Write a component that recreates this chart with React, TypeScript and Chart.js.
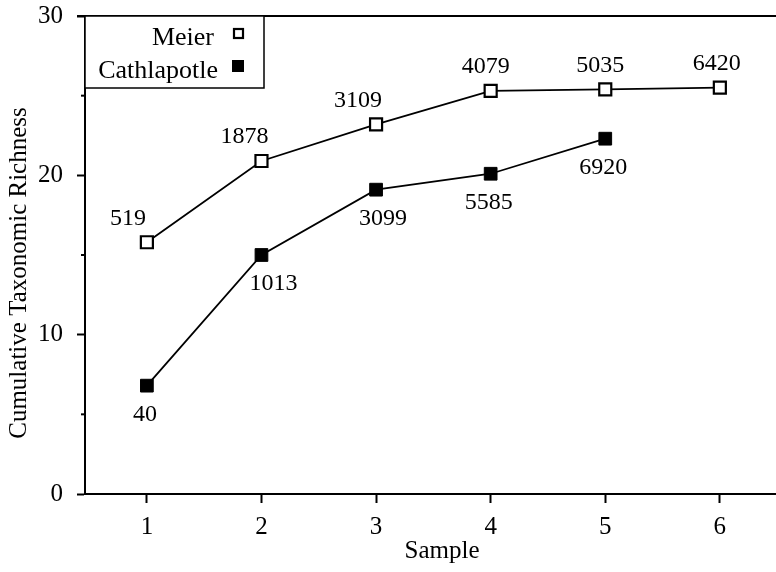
import { useEffect, useRef } from "react";
import { Chart, registerables } from "chart.js";

Chart.register(...registerables);

// ---- data ----
const samples = [1, 2, 3, 4, 5, 6];
const meier = [15.8, 20.9, 23.2, 25.3, 25.4, 25.5];
const cathlapotle = [6.8, 15.0, 19.1, 20.1, 22.3];
const meierLabels = ["519", "1878", "3109", "4079", "5035", "6420"];
const cathLabels = ["40", "1013", "3099", "5585", "6920"];
const xTickValues = [1, 2, 3, 4, 5, 6];
const yMajorTicks = [0, 10, 20, 30];
const yMinorTicks = [5, 15, 25];
const seriesNames = ["Meier", "Cathlapotle"];
const xTitle = "Sample";
const yTitle = "Cumulative Taxonomic Richness";

// ---- style ----
const FONT = "'Liberation Serif', 'Times New Roman', Times, serif";
const meierLabelDx = [-19, -17, -18, -5, -5, -3];
const cathLabelDx = [-2, 12, 7, -2, -2, 0];

const overlayPlugin = {
  id: "overlay",
  afterDraw(chart: any) {
    const { ctx, chartArea } = chart;
    const ys = chart.scales.y;
    ctx.save();
    // top frame line
    ctx.strokeStyle = "#000";
    ctx.lineWidth = 2;
    ctx.beginPath();
    ctx.moveTo(chartArea.left - 8, chartArea.top);
    ctx.lineTo(chartArea.right, chartArea.top);
    ctx.stroke();
    // minor y ticks
    yMinorTicks.forEach((v) => {
      const py = ys.getPixelForValue(v);
      ctx.beginPath();
      ctx.moveTo(chartArea.left - 4, py);
      ctx.lineTo(chartArea.left, py);
      ctx.stroke();
    });

    // data labels
    ctx.fillStyle = "#000";
    ctx.font = `24px ${FONT}`;
    ctx.textAlign = "center";
    ctx.textBaseline = "middle";
    const m0 = chart.getDatasetMeta(0);
    m0.data.forEach((pt: any, i: number) => {
      ctx.fillText(meierLabels[i], pt.x + meierLabelDx[i], pt.y - 24);
    });
    const m1 = chart.getDatasetMeta(1);
    m1.data.forEach((pt: any, i: number) => {
      ctx.fillText(cathLabels[i], pt.x + cathLabelDx[i], pt.y + 29);
    });

    // legend box
    const lx = chartArea.left;
    const ly = chartArea.top;
    const lw = 179;
    const lh = 72;
    ctx.fillStyle = "#fff";
    ctx.fillRect(lx, ly, lw, lh);
    ctx.strokeStyle = "#000";
    ctx.lineWidth = 1.5;
    ctx.strokeRect(lx, ly, lw, lh);
    ctx.fillStyle = "#000";
    ctx.font = `26px ${FONT}`;
    ctx.textAlign = "right";
    ctx.textBaseline = "alphabetic";
    ctx.fillText(seriesNames[0], 214, 45);
    ctx.fillText(seriesNames[1], 218, 78);
    // legend markers
    ctx.lineWidth = 2.2;
    ctx.strokeRect(234, 29, 9, 9);
    ctx.fillRect(232, 60, 12, 12);

    // axis titles
    ctx.font = `25px ${FONT}`;
    ctx.textAlign = "center";
    ctx.textBaseline = "middle";
    ctx.fillText(xTitle, 442, 551);
    ctx.save();
    ctx.translate(19, 273);
    ctx.rotate(-Math.PI / 2);
    ctx.fillText(yTitle, 0, 0);
    ctx.restore();
    ctx.restore();
  },
};

export default function App() {
  const ref = useRef<HTMLCanvasElement | null>(null);
  useEffect(() => {
    if (!ref.current) return;
    const chart = new Chart(ref.current, {
      type: "line",
      data: {
        datasets: [
          {
            label: seriesNames[0],
            data: samples.map((x, i) => ({ x, y: meier[i] })),
            borderColor: "#000",
            borderWidth: 1.8,
            pointStyle: "rect",
            pointRadius: 8.5,
            pointBackgroundColor: "#fff",
            pointBorderColor: "#000",
            pointBorderWidth: 2.2,
            tension: 0,
          },
          {
            label: seriesNames[1],
            data: cathlapotle.map((y, i) => ({ x: samples[i], y })),
            borderColor: "#000",
            borderWidth: 1.8,
            pointStyle: "rect",
            pointRadius: 9,
            pointBackgroundColor: "#000",
            pointBorderColor: "#000",
            pointBorderWidth: 1,
            tension: 0,
          },
        ],
      },
      options: {
        responsive: false,
        animation: false,
        devicePixelRatio: 1,
        layout: { autoPadding: false, padding: { top: 16, right: 0, left: 0, bottom: 0 } },
        plugins: {
          legend: { display: false },
          tooltip: { enabled: false },
        },
        scales: {
          x: {
            type: "linear",
            min: 0.46,
            max: 6.49,
            afterFit: (s: any) => {
              s.height = 78;
              s.paddingLeft = 0;
              s.paddingRight = 0;
              s.paddingTop = 0;
              s.paddingBottom = 0;
            },
            afterBuildTicks: (s: any) => {
              s.ticks = xTickValues.map((v) => ({ value: v }));
            },
            ticks: {
              font: { family: FONT, size: 25 },
              color: "#000",
              padding: 9,
              callback: (v: any) => String(v),
              maxRotation: 0,
            },
            grid: {
              display: true,
              drawOnChartArea: false,
              drawTicks: true,
              tickLength: 9,
              tickWidth: 2,
              color: "#000",
            },
            border: { display: true, color: "#000", width: 2 },
          },
          y: {
            type: "linear",
            min: 0,
            max: 30,
            afterFit: (s: any) => {
              s.width = 85;
              s.paddingLeft = 0;
              s.paddingRight = 0;
              s.paddingTop = 0;
              s.paddingBottom = 0;
            },
            afterBuildTicks: (s: any) => {
              s.ticks = yMajorTicks.map((v) => ({ value: v }));
            },
            ticks: {
              font: { family: FONT, size: 25 },
              color: "#000",
              padding: 14,
              callback: (v: any) => String(v),
            },
            grid: {
              display: true,
              drawOnChartArea: false,
              drawTicks: true,
              tickLength: 8,
              tickWidth: 2,
              color: "#000",
            },
            border: { display: true, color: "#000", width: 2 },
          },
        },
      },
      plugins: [overlayPlugin],
    });
    return () => chart.destroy();
  }, []);
  return (
    <div style={{ position: "absolute", left: 0, top: 0, width: 776, height: 572, background: "#fff" }}>
      <canvas ref={ref} width={776} height={572} style={{ width: 776, height: 572, display: "block" }} />
    </div>
  );
}
